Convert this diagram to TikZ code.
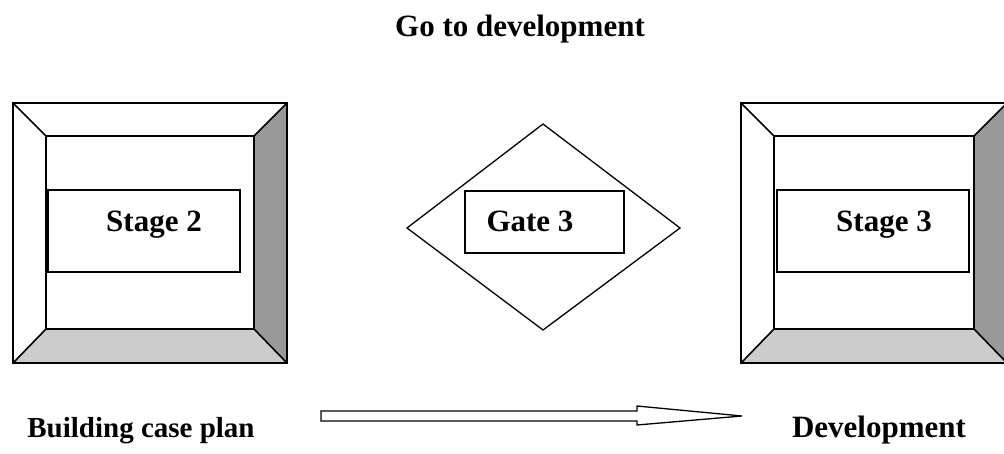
\documentclass[tikz,border=0pt]{standalone}
\usepackage{fontspec}
\setmainfont{Liberation Serif}
\begin{document}
\begin{tikzpicture}[x=1pt,y=-1pt,
  outline/.style={draw=black,line width=1.6pt,line join=miter},
  thin outline/.style={draw=black,line width=1.3pt},
  shadeR/.style={fill=black!40},
  shadeB/.style={fill=black!20},
  label/.style={font=\fontsize{31}{36}\selectfont\bfseries,inner sep=0pt,anchor=base},
  small label/.style={label,font=\fontsize{29}{34}\selectfont\bfseries}]
\useasboundingbox (0,0) rectangle (1004,454);
\clip (0,0) rectangle (1004,454);

% ---- bevelled frame: outer (#1,#2)-(#3,#4), inner (#5,#6)-(#7,#8) ----
\newcommand\bevelframe[8]{%
  \fill[white] (#1,#2) -- (#3,#2) -- (#7,#6) -- (#5,#6) -- cycle;
  \fill[white] (#1,#2) -- (#5,#6) -- (#5,#8) -- (#1,#4) -- cycle;
  \fill[shadeR] (#3,#2) -- (#3,#4) -- (#7,#8) -- (#7,#6) -- cycle;
  \fill[shadeB] (#1,#4) -- (#5,#8) -- (#7,#8) -- (#3,#4) -- cycle;
  \draw[outline] (#1,#2) -- (#5,#6) (#3,#2) -- (#7,#6)
                 (#1,#4) -- (#5,#8) (#3,#4) -- (#7,#8);
  \draw[outline] (#1,#2) rectangle (#3,#4);
  \draw[outline] (#5,#6) rectangle (#7,#8);
}

% Stage 2 frame
\bevelframe{13}{103}{287}{363}{46}{136}{254}{329}
\draw[thin outline] (48,190) rectangle (240,272);
\node[label] (stage2) at (154,232) {Stage 2};

% Stage 3 frame
\bevelframe{741}{103}{1007}{363}{774}{136}{974}{329}
\draw[thin outline] (777,190) rectangle (969,272);
\node[label] (stage3) at (884,232) {Stage 3};

% Gate 3 decision diamond
\draw[thin outline,line join=miter] (543,124) -- (680,228) -- (543,330) -- (407,228) -- cycle;
\draw[thin outline] (465,191) rectangle (624,253);
\node[label] (gate3) at (530,232) {Gate 3};

% headings
\node[label] (goto) at (520,37) {Go to development};
\node[small label] (build) at (141,437) {Building case plan};
\node[label] (dev) at (879,437) {Development};

% block arrow
\draw[thin outline,fill=white,line join=miter]
  (321,411) -- (637,411) -- (637,406) -- (742,416) -- (637,425) -- (637,421) -- (321,421) -- cycle;
\end{tikzpicture}
\end{document}
